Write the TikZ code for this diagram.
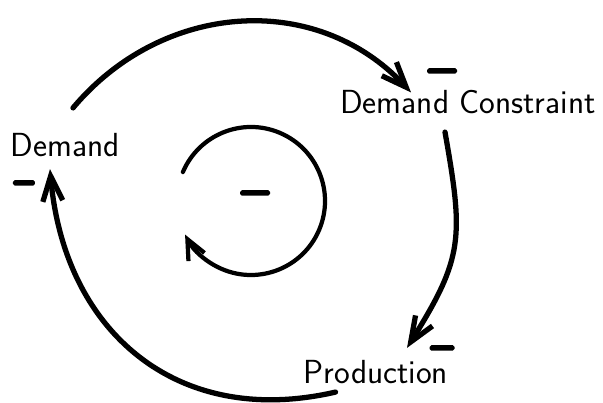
\documentclass[tikz,border=0pt]{standalone}
\usepackage{tikz}
\usetikzlibrary{arrows.meta}

\begin{document}
\begin{tikzpicture}[>={Straight Barb[length=5mm,width=4mm]},
  lbl/.style={font=\sffamily\fontsize{19}{22}\selectfont, inner sep=0pt},
  sgn/.style={fill=black, rounded corners=1pt, inner sep=0pt, minimum height=1.1mm},
  lnk/.style={->, line width=3pt, line cap=round}]
\useasboundingbox (0,0) rectangle (12.06,8.06);
% variables
\node[lbl] (dem) at (1.30,5.16) {Demand};
\node[lbl] (con) at (9.36,6.02) {Demand Constraint};
\node[lbl] (pro) at (7.52,0.62) {Production};
% polarity marks
\node[sgn, minimum width=4.4mm] (sdem) at (0.48,4.40) {};
\node[sgn, minimum width=6mm] (scon) at (8.84,6.64) {};
\node[sgn, minimum width=5mm] (spro) at (8.84,1.10) {};
\node[sgn, minimum width=6mm] (sloop) at (5.10,4.20) {};
% outer loop
\draw[lnk] ([shift={(0.16,0.5)}]dem.north) to[out=50, in=133, looseness=1.05] ([shift={(1.42,-0.05)}]con.north west);
\draw[lnk] ([shift={(-0.46,-0.36)}]con.south) to[out=-80, in=58, looseness=1.25] ([shift={(0.62,0.24)}]pro.north);
\draw[lnk] ([shift={(0.64,-0.16)}]pro.south west) to[out=193, in=-85, looseness=1.15] ([shift={(-0.3,-0.24)}]dem.south);
% inner loop
\coordinate (loopc) at (5.02,4.04);
\draw[->, >={Straight Barb[length=4mm,width=3.6mm]}, line width=2.4pt, line cap=round]
  ([shift={(157:1.48)}]loopc) arc[start angle=157, end angle=-153, radius=1.48];
\end{tikzpicture}
\end{document}
